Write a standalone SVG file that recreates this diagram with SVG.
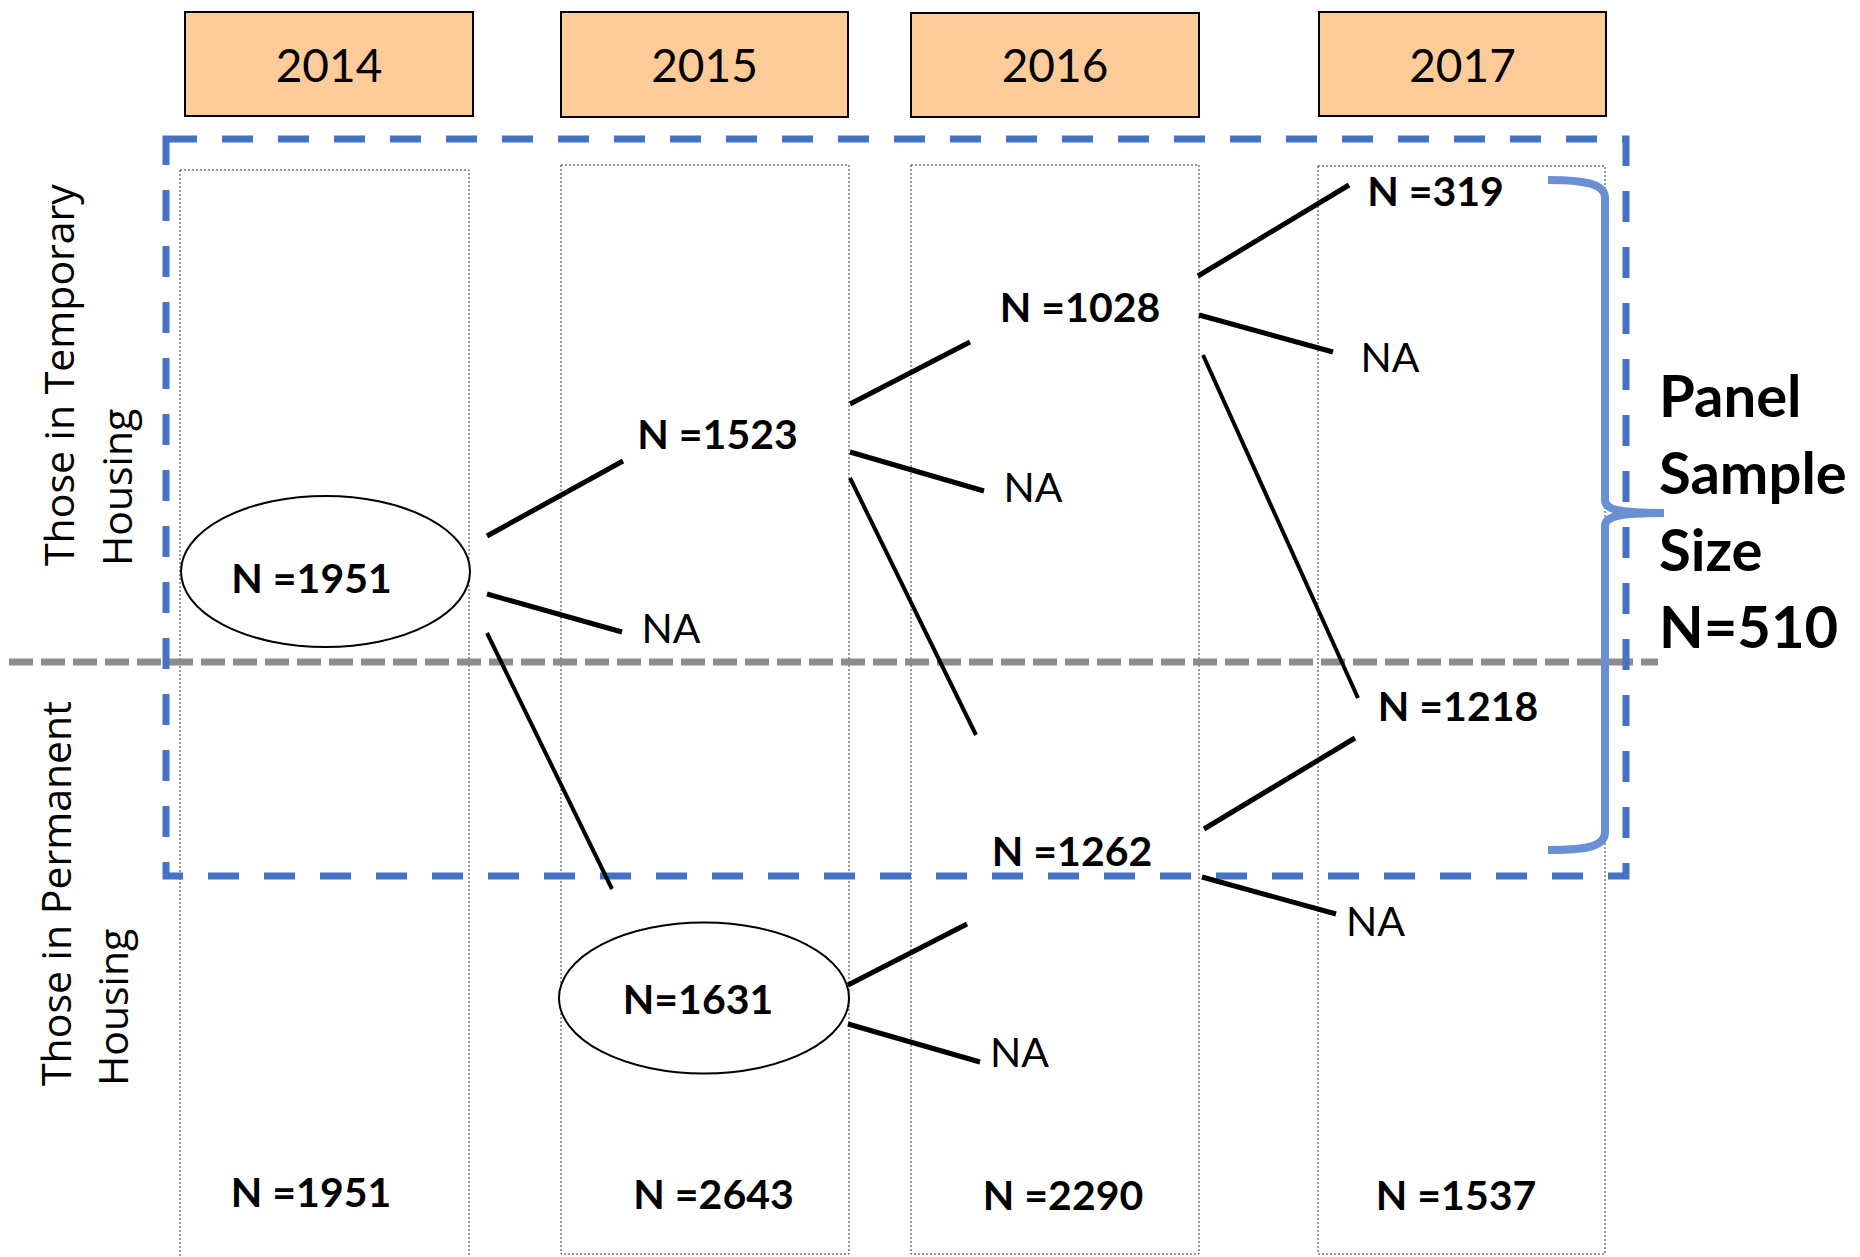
<svg xmlns="http://www.w3.org/2000/svg" width="1860" height="1257" viewBox="0 0 1860 1257">
<style>
.year{fill:#FFCC99;stroke:#000;stroke-width:2}
.yt{font-family:Lato,"Liberation Sans",sans-serif;font-size:46px;fill:#000;text-anchor:middle}
.col{fill:none;stroke:#333;stroke-width:1;stroke-dasharray:2 2}
.nb{font-family:Lato,"Liberation Sans",sans-serif;font-size:41px;font-weight:bold;fill:#000;text-anchor:middle}
.na{font-family:Lato,"Liberation Sans",sans-serif;font-size:41px;fill:#000;text-anchor:middle}
.side{font-family:"Open Sans","DejaVu Sans",sans-serif;font-size:41px;fill:#000}
.panel{font-family:Lato,"Liberation Sans",sans-serif;font-size:58px;font-weight:bold;fill:#000}
.ell{fill:#fff;stroke:#000;stroke-width:2}
.c{stroke:#000;stroke-width:5;fill:none}
.cl{stroke:#000;stroke-width:4;fill:none}
</style>
<rect width="1860" height="1257" fill="#fff"/>
<g id="columns">
<rect id="col2014" class="col" x="180" y="170" width="289" height="1092"/>
<rect id="col2015" class="col" x="561" y="165" width="288" height="1089"/>
<rect id="col2016" class="col" x="911" y="165" width="288" height="1089"/>
<rect id="col2017" class="col" x="1318" y="166" width="287" height="1088"/>
</g>
<g id="years">
<g id="y2014"><rect class="year" x="185" y="12" width="288" height="104"/><text class="yt" x="329" y="82">2014</text></g>
<g id="y2015"><rect class="year" x="561" y="12" width="287" height="105"/><text class="yt" x="704.5" y="82">2015</text></g>
<g id="y2016"><rect class="year" x="911" y="13" width="288" height="104"/><text class="yt" x="1055" y="82">2016</text></g>
<g id="y2017"><rect class="year" x="1319" y="12" width="287" height="104"/><text class="yt" x="1462.5" y="82">2017</text></g>
</g>
<g id="side-labels">
<text class="side" transform="translate(74,566) rotate(-90)">Those in Temporary</text>
<text class="side" transform="translate(132,566) rotate(-90)">Housing</text>
<text class="side" transform="translate(71,1086) rotate(-90)">Those in Permanent</text>
<text class="side" transform="translate(128,1086) rotate(-90)">Housing</text>
</g>
<line id="divider" x1="9" y1="662" x2="1658" y2="662" stroke="#8c8c8c" stroke-width="7" stroke-dasharray="24 8"/>
<rect id="panel-box" x="166" y="139" width="1460" height="737" fill="none" stroke="#4472C4" stroke-width="7" stroke-dasharray="31 25"/>
<path id="brace" d="M1548,180 C1592,180 1605,186 1605,198 L1605,500 C1605,510 1620,513 1664,513 C1620,513 1605,516 1605,526 L1605,832 C1605,845 1592,850 1548,850" fill="none" stroke="#6a8fd3" stroke-width="8"/>
<g id="connectors">
<line class="c" x1="487" y1="536" x2="623" y2="461"/>
<line class="c" x1="487" y1="594" x2="622" y2="632"/>
<line class="cl" x1="487" y1="633" x2="612" y2="889"/>
<line class="c" x1="850" y1="404" x2="970" y2="342"/>
<line class="c" x1="850" y1="452" x2="984" y2="491"/>
<line class="cl" x1="850" y1="478" x2="976" y2="735"/>
<line class="c" x1="1198" y1="276" x2="1349" y2="185"/>
<line class="c" x1="1199" y1="315" x2="1333" y2="352"/>
<line class="cl" x1="1203" y1="355" x2="1358" y2="698"/>
<line class="c" x1="1204" y1="829" x2="1355" y2="738"/>
<line class="c" x1="1202" y1="877" x2="1336" y2="914"/>
<line class="c" x1="848" y1="985" x2="967" y2="924"/>
<line class="c" x1="848" y1="1024" x2="980" y2="1062"/>
</g>
<g id="n2014"><ellipse class="ell" cx="325.5" cy="571.5" rx="144.5" ry="75.5"/><text class="nb" x="311.5" y="593">N =1951</text></g>
<g id="n2015t"><text class="nb" x="717.5" y="449">N =1523</text></g>
<g id="na2015"><text class="na" x="671" y="643">NA</text></g>
<g id="n2015p"><ellipse class="ell" cx="704" cy="998" rx="145" ry="75.5"/><text class="nb" x="698" y="1014">N=1631</text></g>
<g id="n2016t"><text class="nb" x="1080" y="322">N =1028</text></g>
<g id="na2016a"><text class="na" x="1033" y="502">NA</text></g>
<g id="n2016p"><text class="nb" x="1072" y="866">N =1262</text></g>
<g id="na2016b"><text class="na" x="1019.5" y="1067">NA</text></g>
<g id="n2017a"><text class="nb" x="1435.5" y="206">N =319</text></g>
<g id="na2017a"><text class="na" x="1390" y="372">NA</text></g>
<g id="n2017b"><text class="nb" x="1458" y="721">N =1218</text></g>
<g id="na2017b"><text class="na" x="1375.5" y="936">NA</text></g>
<g id="totals">
<text class="nb" x="311" y="1207">N =1951</text>
<text class="nb" x="713.5" y="1209">N =2643</text>
<text class="nb" x="1063" y="1210">N =2290</text>
<text class="nb" x="1456" y="1210">N =1537</text>
</g>
<g id="panel-label">
<text class="panel" x="1659" y="417">Panel</text>
<text class="panel" x="1659" y="494">Sample</text>
<text class="panel" x="1659" y="571">Size</text>
<text class="panel" x="1659" y="648">N=510</text>
</g>
</svg>
